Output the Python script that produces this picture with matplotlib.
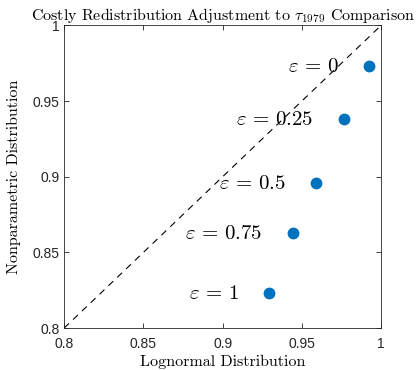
import matplotlib
matplotlib.use("Agg")
import matplotlib.pyplot as plt

plt.rcParams["mathtext.fontset"] = "cm"

# Efficiency ratios under the two earnings distributions, one per elasticity
eps_labels = ["0", "0.25", "0.5", "0.75", "1"]
lognormal = [0.9924, 0.9766, 0.9590, 0.9442, 0.9293]
nonparametric = [0.9733, 0.9383, 0.8956, 0.8628, 0.8229]

axis_ticks = [0.8, 0.85, 0.9, 0.95, 1.0]
axis_ticklabels = ["0.8", "0.85", "0.9", "0.95", "1"]

fig = plt.figure(figsize=(4.17, 3.70), dpi=100)
ax = fig.add_axes([0.154, 0.1135, 0.760, 0.818])

dark = "#262626"
ax.plot([0.8, 1.0], [0.8, 1.0], color="black", linestyle=(0, (6, 5)), linewidth=0.8)
ax.plot(lognormal, nonparametric, linestyle="none", marker="o",
        markersize=8.5, color="#0072BD", markeredgewidth=0)

for x, y, e in zip(lognormal, nonparametric, eps_labels):
    ax.annotate(r"$\varepsilon\,=\,%s$" % e, xy=(x, y), xytext=(-22, 0),
                textcoords="offset points", ha="right", va="center",
                fontsize=15, color="black")

ax.set_xlim(0.8, 1.0)
ax.set_ylim(0.8, 1.0)
ax.set_xticks(axis_ticks)
ax.set_xticklabels(axis_ticklabels)
ax.set_yticks(axis_ticks)
ax.set_yticklabels(axis_ticklabels)
ax.tick_params(direction="in", top=True, right=True, length=3.5, width=0.6,
               labelsize=10, colors=dark)
ax.tick_params(axis="x", pad=6.5)
ax.tick_params(axis="y", pad=3.5)
for lbl in ax.get_xticklabels() + ax.get_yticklabels():
    lbl.set_family("Liberation Sans")
for s in ax.spines.values():
    s.set_color(dark)
    s.set_linewidth(0.6)

serif = dict(family="cmr10", fontsize=11.5)
ax.set_title(r"Costly Redistribution Adjustment to $\tau_{1979}$ Comparison",
             pad=4, **serif)
ax.set_xlabel("Lognormal Distribution", labelpad=2.5, **serif)
ax.set_ylabel("Nonparametric Distribution", labelpad=8, **serif)

fig.savefig("out.png", dpi=100)
